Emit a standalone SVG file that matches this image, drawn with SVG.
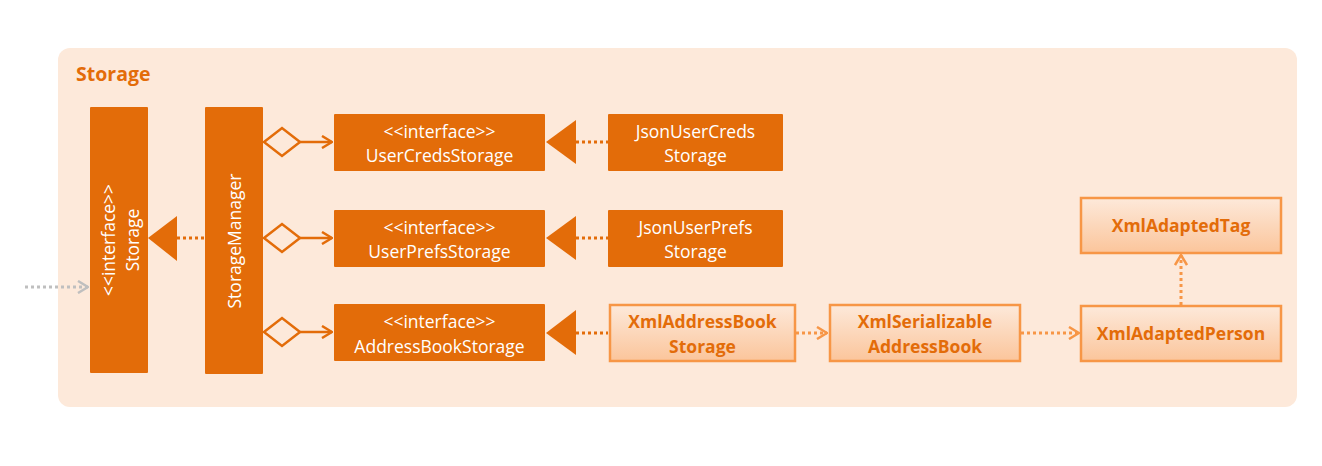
<svg xmlns="http://www.w3.org/2000/svg" width="1322" height="466" viewBox="0 0 1322 466">
<defs>
<linearGradient id="lg" x1="0" y1="0" x2="0" y2="1">
<stop offset="0" stop-color="#FDE9DA"/>
<stop offset="1" stop-color="#FBC59B"/>
</linearGradient>
<marker id="open" viewBox="0 0 12 14" refX="11" refY="7" markerWidth="12" markerHeight="14" markerUnits="userSpaceOnUse" orient="auto">
<path d="M1,1 L11,7 L1,13" fill="none" stroke="#E36C09" stroke-width="2.5"/>
</marker>
<marker id="openL" viewBox="0 0 12 14" refX="11" refY="7" markerWidth="12" markerHeight="14" markerUnits="userSpaceOnUse" orient="auto">
<path d="M1,1 L11,7 L1,13" fill="none" stroke="#F79646" stroke-width="2.5"/>
</marker>
<marker id="openG" viewBox="0 0 12 14" refX="11" refY="7" markerWidth="12" markerHeight="14" markerUnits="userSpaceOnUse" orient="auto">
<path d="M1,1 L11,7 L1,13" fill="none" stroke="#BFBFBF" stroke-width="2.5"/>
</marker>
</defs>
<style>
.dark{fill:#E36C09;}
.light{fill:url(#lg);stroke:#F79646;stroke-width:2.5;}
.wt{font-family:"Open Sans","Liberation Sans",sans-serif;font-size:17.5px;fill:#FFFFFF;text-anchor:middle;}
.bt{font-family:"Open Sans","Liberation Sans",sans-serif;font-size:17.5px;font-weight:bold;fill:#E36C09;text-anchor:middle;}
.dot{fill:none;stroke:#E36C09;stroke-width:3;stroke-dasharray:3,3;}
.dotL{fill:none;stroke:#F79646;stroke-width:3;stroke-dasharray:3,3;}
.agg{fill:none;stroke:#E36C09;stroke-width:2.5;}
.tri{fill:#E36C09;}
</style>
<rect x="58" y="48" width="1239" height="359" rx="12" fill="#FDE9DA"/>
<text x="76" y="81" font-family="'Open Sans','Liberation Sans',sans-serif" font-size="19.5" font-weight="bold" fill="#E36C09">Storage</text>

<g id="connectors">
<line class="dot" x1="177" y1="238" x2="205" y2="238"/>
<polygon class="tri" points="148,238 177,216 177,261"/>
<line x1="25" y1="287" x2="88" y2="287" stroke="#BFBFBF" stroke-width="3" stroke-dasharray="3,3" marker-end="url(#openG)"/>
<polygon class="agg" points="264,142 282,128 300,142 282,156"/>
<line class="agg" x1="300" y1="142" x2="332" y2="142" marker-end="url(#open)"/>
<polygon class="agg" points="264,238 282,224 300,238 282,252"/>
<line class="agg" x1="300" y1="238" x2="332" y2="238" marker-end="url(#open)"/>
<polygon class="agg" points="264,332 282,318 300,332 282,346"/>
<line class="agg" x1="300" y1="332" x2="332" y2="332" marker-end="url(#open)"/>
<line class="dot" x1="576" y1="142" x2="608" y2="142"/>
<polygon class="tri" points="546,142 576,120 576,164"/>
<line class="dot" x1="576" y1="238" x2="608" y2="238"/>
<polygon class="tri" points="546,238 576,216 576,260"/>
<line class="dot" x1="576" y1="333" x2="608" y2="333"/>
<polygon class="tri" points="546,333 576,310 576,355"/>
<line class="dotL" x1="796" y1="333" x2="827" y2="333" marker-end="url(#openL)"/>
<line class="dotL" x1="1021" y1="333" x2="1079" y2="333" marker-end="url(#openL)"/>
<line class="dotL" x1="1181" y1="305" x2="1181" y2="255" marker-end="url(#openL)"/>
</g>

<g id="storage">
<rect class="dark" x="90" y="107" width="58" height="266" rx="1"/>
<text class="wt" transform="translate(115,240) rotate(-90)">&lt;&lt;interface&gt;&gt;</text>
<text class="wt" transform="translate(139,240) rotate(-90)">Storage</text>
</g>
<g id="storageManager">
<rect class="dark" x="205" y="107" width="58" height="267" rx="1"/>
<text class="wt" transform="translate(241,241) rotate(-90)">StorageManager</text>
</g>
<g id="userCredsStorage">
<rect class="dark" x="334" y="114" width="211" height="57" rx="1"/>
<text class="wt" x="439.5" y="138">&lt;&lt;interface&gt;&gt;</text>
<text class="wt" x="439.5" y="162">UserCredsStorage</text>
</g>
<g id="userPrefsStorage">
<rect class="dark" x="334" y="210" width="211" height="57" rx="1"/>
<text class="wt" x="439.5" y="234">&lt;&lt;interface&gt;&gt;</text>
<text class="wt" x="439.5" y="258">UserPrefsStorage</text>
</g>
<g id="addressBookStorage">
<rect class="dark" x="334" y="304" width="211" height="57" rx="1"/>
<text class="wt" x="439.5" y="328">&lt;&lt;interface&gt;&gt;</text>
<text class="wt" x="439.5" y="353">AddressBookStorage</text>
</g>
<g id="jsonUserCredsStorage">
<rect class="dark" x="608" y="114" width="175" height="57" rx="1"/>
<text class="wt" x="695.5" y="138">JsonUserCreds</text>
<text class="wt" x="695.5" y="162">Storage</text>
</g>
<g id="jsonUserPrefsStorage">
<rect class="dark" x="608" y="210" width="175" height="57" rx="1"/>
<text class="wt" x="695.5" y="234">JsonUserPrefs</text>
<text class="wt" x="695.5" y="258">Storage</text>
</g>
<g id="xmlAddressBookStorage">
<rect class="light" x="610" y="305" width="185" height="56"/>
<text class="bt" x="702.5" y="328">XmlAddressBook</text>
<text class="bt" x="702.5" y="353">Storage</text>
</g>
<g id="xmlSerializableAddressBook">
<rect class="light" x="830" y="305" width="190" height="56"/>
<text class="bt" x="925" y="328">XmlSerializable</text>
<text class="bt" x="925" y="353">AddressBook</text>
</g>
<g id="xmlAdaptedPerson">
<rect class="light" x="1081" y="306" width="200" height="55"/>
<text class="bt" x="1181" y="340">XmlAdaptedPerson</text>
</g>
<g id="xmlAdaptedTag">
<rect class="light" x="1081" y="198" width="200" height="55"/>
<text class="bt" x="1181" y="232">XmlAdaptedTag</text>
</g>
</svg>
